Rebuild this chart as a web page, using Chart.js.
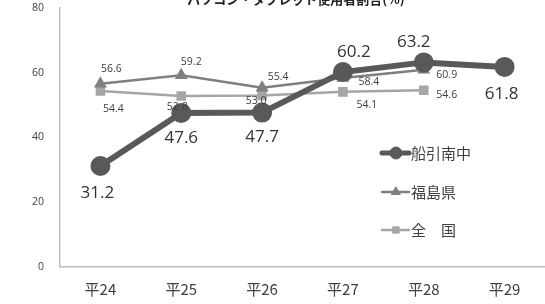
<!DOCTYPE html>
<html><head><meta charset="utf-8">
<script src="https://cdn.jsdelivr.net/npm/chart.js@4"></script>
<style>html,body{margin:0;padding:0;background:#fff}#wrap{width:545px;height:304px}</style>
</head><body><div id="wrap"><canvas id="c"></canvas></div>
<script>
const categories = ['平24','平25','平26','平27','平28','平29'];
const funabikiMinami = [31.2, 47.6, 47.7, 60.2, 63.2, 61.8];
const fukushima = [56.6, 59.2, 55.4, 58.4, 60.9, null];
const zenkoku = [54.4, 52.8, 53.0, 54.1, 54.6, null];
const seriesNames = ['船引南中', '福島県', '全　国'];
const yTicks = [0, 20, 40, 60, 80];
const titleText = 'パソコン・タブレット使用者割合(%)';

const labelOffsets = [
  [[-3,27],[0,25],[0,25],[11,-20],[-10,-20],[-3,27]],
  [[11,-15],[10,-13],[16,-11],[26,4],[23,5]],
  [[13,18],[-4,11],[-6,6],[24,13],[23,5]]
];
const labelFonts = ['17px "Open Sans", "Noto Sans", sans-serif', '10.5px "Open Sans", "Noto Sans", sans-serif', '10.5px "Open Sans", "Noto Sans", sans-serif'];
const labelColors = ['#333333', '#404040', '#404040'];
const legendMarkerR = [6, 5, 4.5];

const extras = {
  id: 'extras',
  afterDatasetsDraw(chart) {
    const ctx = chart.ctx;
    ctx.save();
    ctx.textAlign = 'center';
    ctx.textBaseline = 'middle';
    chart.data.datasets.forEach((ds, di) => {
      const meta = chart.getDatasetMeta(di);
      meta.data.forEach((pt, i) => {
        const v = ds.data[i];
        if (v === null || v === undefined) return;
        const off = labelOffsets[di][i];
        ctx.font = labelFonts[di];
        ctx.fillStyle = labelColors[di];
        ctx.fillText(v.toFixed(1), pt.x + off[0], pt.y + off[1]);
      });
    });
    // legend
    const ly = [153, 192, 230];
    chart.data.datasets.forEach((ds, di) => {
      const y = ly[di];
      ctx.strokeStyle = ds.borderColor;
      ctx.fillStyle = ds.borderColor;
      ctx.lineWidth = di === 0 ? 5 : 2.5;
      ctx.lineCap = 'round';
      ctx.beginPath(); ctx.moveTo(382, y); ctx.lineTo(409, y); ctx.stroke();
      ctx.lineWidth = 1;
      Chart.helpers.drawPoint(ctx, {pointStyle: ds.pointStyle, radius: legendMarkerR[di], borderWidth: 1, rotation: 0}, 396, y);
      ctx.font = '15px "Noto Sans CJK JP", sans-serif';
      ctx.fillStyle = '#404040';
      ctx.textAlign = 'left';
      ctx.fillText(seriesNames[di], 411, y);
      ctx.textAlign = 'center';
    });
    // clipped title
    ctx.font = 'bold 13px "Noto Sans CJK JP", sans-serif';
    ctx.fillStyle = '#222';
    ctx.textBaseline = 'alphabetic';
    ctx.fillText(titleText, 296, 4);
    ctx.restore();
  }
};

const ds = (label, data, color, width, style, r) => ({
  label, data, borderColor: color, backgroundColor: color, borderWidth: width,
  pointStyle: style, pointRadius: r, pointHoverRadius: r, pointBackgroundColor: color,
  pointBorderColor: color, tension: 0, spanGaps: false, clip: false
});

new Chart(document.getElementById('c'), {
  type: 'line',
  data: {
    labels: categories,
    datasets: [
      ds(seriesNames[0], funabikiMinami, '#595959', 6, 'circle', 7),
      ds(seriesNames[1], fukushima, '#7f7f7f', 2.5, 'triangle', 5),
      ds(seriesNames[2], zenkoku, '#a6a6a6', 2.5, 'rect', 5)
    ]
  },
  options: {
    responsive: true, maintainAspectRatio: false, animation: false,
    layout: { autoPadding: false, padding: 0 },
    plugins: { legend: { display: false }, tooltip: { enabled: false } },
    scales: {
      x: {
        offset: true,
        grid: { display: false, drawTicks: false, offset: true },
        border: { display: true, color: '#bfbfbf', width: 1.5 },
        ticks: { padding: 13, color: '#404040', font: { size: 15, family: '"Noto Sans CJK JP", sans-serif' } },
        afterFit(s) { s.height = 37; s.paddingLeft = 0; s.paddingRight = 0; }
      },
      y: {
        min: 0, max: 80,
        afterBuildTicks(s) { s.ticks = yTicks.map(v => ({ value: v })); },
        grid: { display: false, drawTicks: false },
        border: { display: true, color: '#bfbfbf', width: 1.5 },
        ticks: { padding: 16, color: '#404040', font: { size: 10.5, family: '"Open Sans", sans-serif' } },
        afterFit(s) { s.width = 60; s.paddingTop = 8; s.paddingBottom = 0; }
      }
    }
  },
  plugins: [extras]
});
</script></body></html>
